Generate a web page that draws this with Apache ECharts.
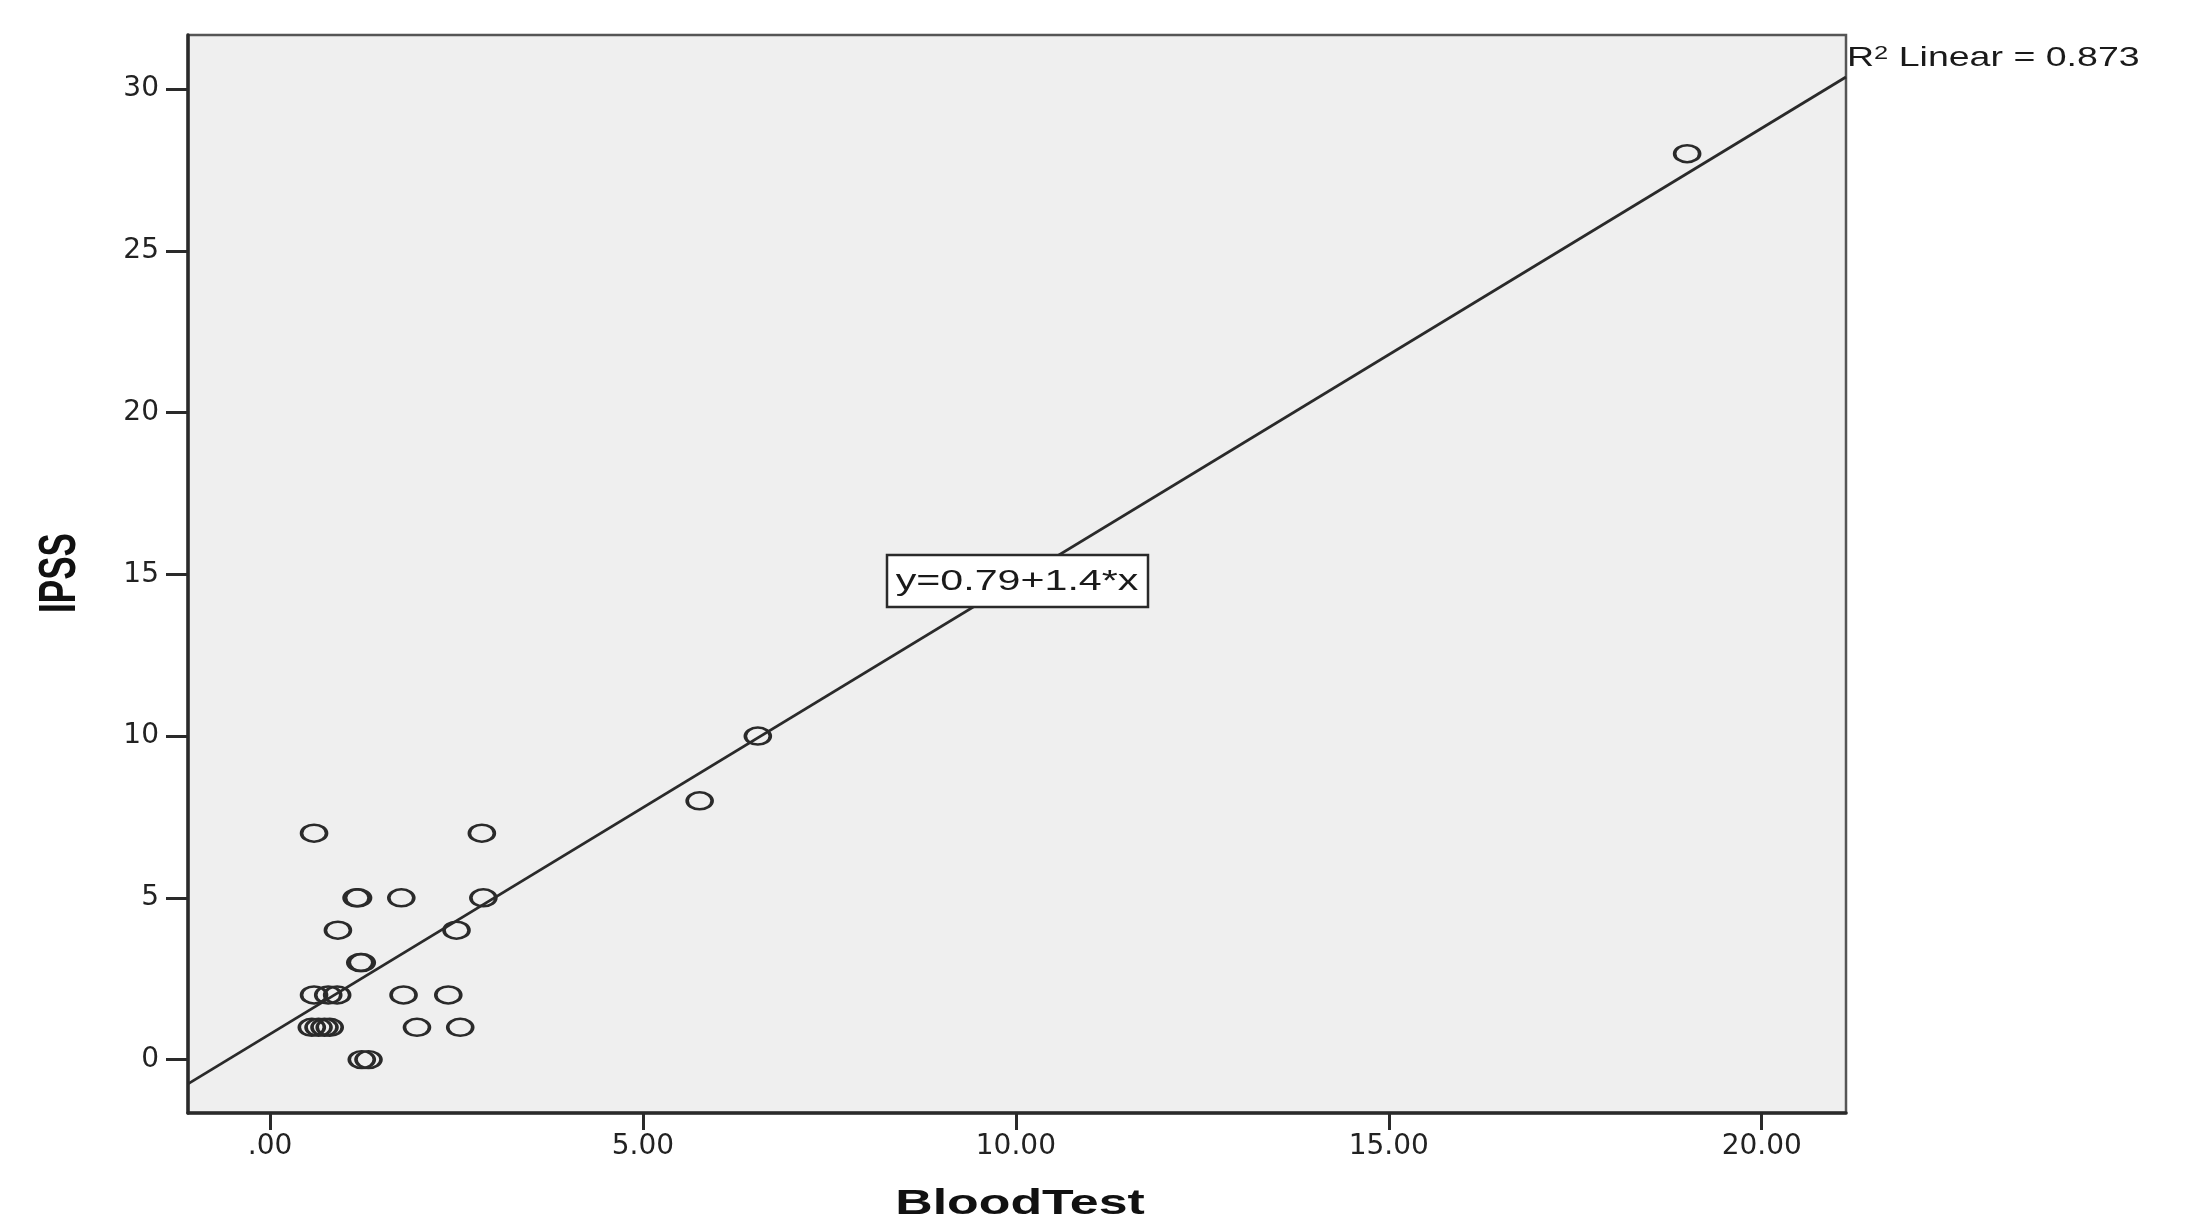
<!DOCTYPE html>
<html>
<head>
<meta charset="utf-8">
<script src="https://cdn.jsdelivr.net/npm/echarts@6/dist/echarts.min.js"></script>
<style>
html,body{margin:0;padding:0;background:#fff;}
#chart{width:2185px;height:1225px;}
</style>
</head>
<body>
<div id="chart"></div>
<script>
// ---- data ----
const bloodTest = [19.0, 6.54, 5.76, 0.59, 2.84, 1.16, 1.18, 1.76, 2.86, 0.91, 2.50, 1.21, 1.23, 0.59, 0.78, 0.90, 1.79, 2.39, 0.56, 0.65, 0.73, 0.80, 1.97, 2.55, 1.23, 1.32];
const ipss      = [28,   10,   8,    7,    7,    5,    5,    5,    5,    4,    4,    3,    3,    2,    2,    2,    2,    2,    1,    1,    1,    1,    1,    1,    0,    0];
const xTickValues = [0, 5, 10, 15, 20];
const xTickLabels = ['.00', '5.00', '10.00', '15.00', '20.00'];
const yTickValues = [0, 5, 10, 15, 20, 25, 30];
const yTickLabels = ['0', '5', '10', '15', '20', '25', '30'];
const fitLineX = [-1.10, 21.13];
const fitLineY = [-0.75, 30.37];
const equationText = 'y=0.79+1.4*x';
const r2Text = 'R{s|2} Linear = 0.873';
const xAxisTitle = 'BloodTest';
const yAxisTitle = 'IPSS';

const points = bloodTest.map((v, i) => [v, ipss[i]]);
const linePts = fitLineX.map((v, i) => [v, fitLineY[i]]);

const chart = echarts.init(document.getElementById('chart'));
const ellipse = 'path://M0,10A10,10,0,1,1,20,10A10,10,0,1,1,0,10Z';

chart.setOption({
  animation: false,
  backgroundColor: '#ffffff',
  grid: {
    left: 188, top: 35, right: 339, bottom: 112,
    show: true, backgroundColor: '#efefef', borderColor: '#555555', borderWidth: 2.5
  },
  xAxis: {
    type: 'value', min: -1.10, max: 21.13,
    splitLine: { show: false },
    axisLine: { show: true, onZero: false, lineStyle: { color: '#2a2a2a', width: 3.5 } },
    axisTick: { show: true, customValues: xTickValues, length: 17, lineStyle: { color: '#2a2a2a', width: 3 } },
    axisLabel: {
      customValues: xTickValues, margin: 20,
      formatter: v => xTickLabels[xTickValues.indexOf(v)],
      fontFamily: 'DejaVu Sans', fontSize: 28, color: '#222'
    }
  },
  yAxis: {
    type: 'value', min: -1.65, max: 31.67,
    splitLine: { show: false },
    axisLine: { show: true, onZero: false, lineStyle: { color: '#2a2a2a', width: 3.5 } },
    axisTick: { show: true, customValues: yTickValues, length: 22, lineStyle: { color: '#2a2a2a', width: 3 } },
    axisLabel: {
      customValues: yTickValues, margin: 29,
      formatter: v => yTickLabels[yTickValues.indexOf(v)],
      fontFamily: 'DejaVu Sans', fontSize: 28, color: '#222'
    }
  },
  series: [
    {
      type: 'line', data: linePts, showSymbol: false, silent: true,
      lineStyle: { color: '#2a2a2a', width: 2.8 }, z: 2
    },
    {
      type: 'scatter', data: points, symbol: ellipse, symbolSize: [25, 17],
      itemStyle: { color: 'rgba(0,0,0,0)', borderColor: '#2a2a2a', borderWidth: 3, opacity: 1 },
      z: 3
    }
  ],
  graphic: [
    { type: 'rect', z: 100, shape: { x: 887, y: 555, width: 261, height: 52 },
      style: { fill: '#ffffff', stroke: '#2a2a2a', lineWidth: 2.5 } },
    { type: 'text', z: 101, x: 1017, y: 582, scaleX: 1.42,
      style: { text: equationText, fontFamily: 'Liberation Sans', fontSize: 29, fill: '#1a1a1a',
               align: 'center', verticalAlign: 'middle' } },
    { type: 'text', z: 101, x: 1847, y: 58, scaleX: 1.34,
      style: { text: r2Text, fontFamily: 'Liberation Sans', fontSize: 28, fill: '#1a1a1a',
               align: 'left', verticalAlign: 'middle',
               rich: { s: { fontFamily: 'Liberation Sans', fontSize: 19, fill: '#1a1a1a', verticalAlign: 'top' } } } },
    { type: 'text', z: 101, x: 1020, y: 1204, scaleX: 1.48,
      style: { text: xAxisTitle, fontFamily: 'Liberation Sans', fontWeight: 'bold', fontSize: 35, fill: '#111',
               align: 'center', verticalAlign: 'middle' } },
    { type: 'text', z: 101, x: 61, y: 573, rotation: Math.PI / 2, scaleY: 1.5,
      style: { text: yAxisTitle, fontFamily: 'Liberation Sans', fontWeight: 'bold', fontSize: 35, fill: '#111',
               align: 'center', verticalAlign: 'middle' } }
  ]
});
</script>
</body>
</html>
